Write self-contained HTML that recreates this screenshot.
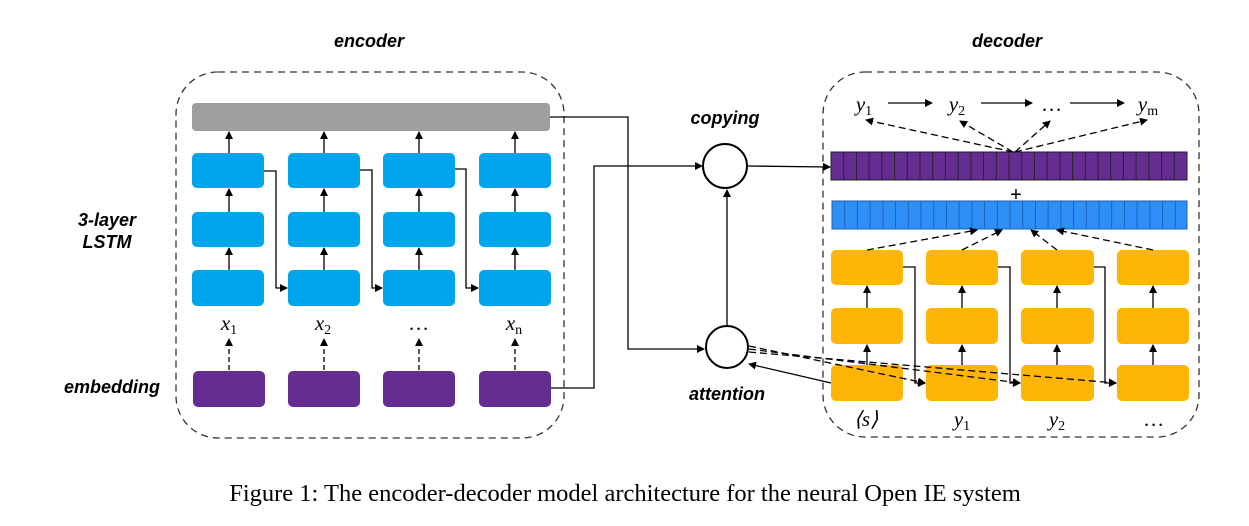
<!DOCTYPE html>
<html><head><meta charset="utf-8"><style>
html,body{margin:0;padding:0;background:#fff;}
svg{display:block;}
.lbl{font-family:"Liberation Sans",sans-serif;font-weight:bold;font-style:italic;font-size:18px;text-anchor:middle;}
.m{font-family:"Liberation Serif",serif;font-style:italic;font-size:21px;text-anchor:middle;}
.s{font-family:"Liberation Serif",serif;font-size:14px;font-style:normal;}
</style></head><body>
<svg width="1249" height="526" viewBox="0 0 1249 526" xmlns="http://www.w3.org/2000/svg">
<defs>
<marker id="a" markerWidth="8" markerHeight="8" refX="7" refY="4" orient="auto" markerUnits="userSpaceOnUse"><path d="M0,0 L8,4 L0,8 z" fill="#000"/></marker>
</defs>
<text class="lbl" x="369" y="47">encoder</text>
<text class="lbl" x="1007" y="47">decoder</text>
<text class="lbl" x="107" y="226">3-layer</text>
<text class="lbl" x="107" y="248">LSTM</text>
<text class="lbl" x="112" y="393">embedding</text>
<text class="lbl" x="725" y="124">copying</text>
<text class="lbl" x="727" y="400">attention</text>
<rect x="176" y="72" width="388" height="366" rx="42" fill="none" stroke="#333" stroke-width="1.3" stroke-dasharray="7,5"/>
<rect x="823" y="72" width="376" height="365" rx="42" fill="none" stroke="#333" stroke-width="1.3" stroke-dasharray="7,5"/>
<rect x="192" y="103" width="358" height="28" rx="4" fill="#9e9e9e"/>
<g fill="#00a6ed">
<rect x="192" y="153" width="72" height="35" rx="5"/><rect x="288" y="153" width="72" height="35" rx="5"/><rect x="383" y="153" width="72" height="35" rx="5"/><rect x="479" y="153" width="72" height="35" rx="5"/>
<rect x="192" y="212" width="72" height="35" rx="5"/><rect x="288" y="212" width="72" height="35" rx="5"/><rect x="383" y="212" width="72" height="35" rx="5"/><rect x="479" y="212" width="72" height="35" rx="5"/>
<rect x="192" y="270" width="72" height="36" rx="5"/><rect x="288" y="270" width="72" height="36" rx="5"/><rect x="383" y="270" width="72" height="36" rx="5"/><rect x="479" y="270" width="72" height="36" rx="5"/>
</g>
<g fill="#652c91">
<rect x="193" y="371" width="72" height="36" rx="5"/><rect x="288" y="371" width="72" height="36" rx="5"/><rect x="383" y="371" width="72" height="36" rx="5"/><rect x="479" y="371" width="72" height="36" rx="5"/>
</g>
<g stroke="#000" stroke-width="1.3" fill="none" marker-end="url(#a)">
<line x1="229" y1="153" x2="229" y2="132"/><line x1="324" y1="153" x2="324" y2="132"/><line x1="419" y1="153" x2="419" y2="132"/><line x1="515" y1="153" x2="515" y2="132"/>
<line x1="229" y1="212" x2="229" y2="189"/><line x1="324" y1="212" x2="324" y2="189"/><line x1="419" y1="212" x2="419" y2="189"/><line x1="515" y1="212" x2="515" y2="189"/>
<line x1="229" y1="270" x2="229" y2="248"/><line x1="324" y1="270" x2="324" y2="248"/><line x1="419" y1="270" x2="419" y2="248"/><line x1="515" y1="270" x2="515" y2="248"/>
<polyline points="264,171 276,171 276,288 287,288"/>
<polyline points="360,170 372,170 372,288 382,288"/>
<polyline points="455,169 466,169 466,288 478,288"/>
</g>
<g stroke="#000" stroke-width="1.3" fill="none" stroke-dasharray="5,3" marker-end="url(#a)">
<line x1="229" y1="370" x2="229" y2="339"/><line x1="324" y1="370" x2="324" y2="339"/><line x1="419" y1="370" x2="419" y2="339"/><line x1="515" y1="370" x2="515" y2="339"/>
</g>
<text class="m" x="229" y="330">x<tspan class="s" dy="4">1</tspan></text>
<text class="m" x="323" y="330">x<tspan class="s" dy="4">2</tspan></text>
<text class="m" x="419" y="330">…</text>
<text class="m" x="514" y="330">x<tspan class="s" dy="4">n</tspan></text>
<g stroke="#000" stroke-width="1.3" fill="none" marker-end="url(#a)">
<polyline points="550,117 628,117 628,349 704,349"/>
<polyline points="551,388 594,388 594,166 702,166"/>
<line x1="727" y1="326" x2="727" y2="190"/>
<line x1="748" y1="166" x2="830" y2="167"/>
<line x1="831" y1="383" x2="749" y2="364"/>
</g>
<circle cx="725" cy="166" r="22" fill="#fff" stroke="#000" stroke-width="2"/>
<circle cx="727" cy="347" r="21" fill="#fff" stroke="#000" stroke-width="2"/>
<rect x="831" y="152" width="356" height="28" fill="#652c91" stroke="#222" stroke-width="1"/>
<g stroke="#222" stroke-width="0.9">
<path d="M843.7,152V180M856.4,152V180M869.1,152V180M881.9,152V180M894.6,152V180M907.3,152V180M920,152V180M932.7,152V180M945.4,152V180M958.1,152V180M970.9,152V180M983.6,152V180M996.3,152V180M1009,152V180M1021.7,152V180M1034.4,152V180M1047.1,152V180M1059.9,152V180M1072.6,152V180M1085.3,152V180M1098,152V180M1110.7,152V180M1123.4,152V180M1136.1,152V180M1148.9,152V180M1161.6,152V180M1174.3,152V180"/>
</g>
<text x="1016" y="201" font-family="Liberation Sans,sans-serif" font-size="20" text-anchor="middle">+</text>
<rect x="832" y="201" width="355" height="28" fill="#2e8ff7" stroke="#1a5fb0" stroke-width="1"/>
<g stroke="#1a5fb0" stroke-width="0.9">
<path d="M844.7,201V229M857.4,201V229M870.1,201V229M882.9,201V229M895.6,201V229M908.3,201V229M921,201V229M933.7,201V229M946.4,201V229M959.1,201V229M971.9,201V229M984.6,201V229M997.3,201V229M1010,201V229M1022.7,201V229M1035.4,201V229M1048.1,201V229M1060.9,201V229M1073.6,201V229M1086.3,201V229M1099,201V229M1111.7,201V229M1124.4,201V229M1137.1,201V229M1149.9,201V229M1162.6,201V229M1175.3,201V229"/>
</g>
<g fill="#ffb508">
<rect x="831" y="250" width="72" height="35" rx="5"/><rect x="926" y="250" width="72" height="35" rx="5"/><rect x="1021" y="250" width="73" height="35" rx="5"/><rect x="1117" y="250" width="72" height="35" rx="5"/>
<rect x="831" y="308" width="72" height="36" rx="5"/><rect x="926" y="308" width="72" height="36" rx="5"/><rect x="1021" y="308" width="73" height="36" rx="5"/><rect x="1117" y="308" width="72" height="36" rx="5"/>
<rect x="831" y="365" width="72" height="36" rx="5"/><rect x="926" y="365" width="72" height="36" rx="5"/><rect x="1021" y="365" width="73" height="36" rx="5"/><rect x="1117" y="365" width="72" height="36" rx="5"/>
</g>
<g stroke="#000" stroke-width="1.3" fill="none" marker-end="url(#a)">
<line x1="867" y1="308" x2="867" y2="286"/><line x1="962" y1="308" x2="962" y2="286"/><line x1="1057" y1="308" x2="1057" y2="286"/><line x1="1153" y1="308" x2="1153" y2="286"/>
<line x1="867" y1="365" x2="867" y2="345"/><line x1="962" y1="365" x2="962" y2="345"/><line x1="1057" y1="365" x2="1057" y2="345"/><line x1="1153" y1="365" x2="1153" y2="345"/>
<polyline points="903,267 915,267 915,383 925,383"/>
<polyline points="998,267 1010,267 1010,383 1020,383"/>
<polyline points="1094,267 1105,267 1105,383 1116,383"/>
<line x1="888" y1="103" x2="932" y2="103"/>
<line x1="981" y1="103" x2="1032" y2="103"/>
<line x1="1070" y1="103" x2="1124" y2="103"/>
</g>
<g stroke="#000" stroke-width="1.3" fill="none" stroke-dasharray="7,4" marker-end="url(#a)">
<line x1="867" y1="250" x2="977" y2="230"/>
<line x1="962" y1="250" x2="1002" y2="230"/>
<line x1="1057" y1="250" x2="1031" y2="230"/>
<line x1="1153" y1="250" x2="1057" y2="230"/>
<line x1="1013" y1="152" x2="866" y2="120"/>
<line x1="1013" y1="152" x2="960" y2="121"/>
<line x1="1015" y1="152" x2="1050" y2="121"/>
<line x1="1015" y1="152" x2="1147" y2="120"/>
<line x1="749" y1="346" x2="925" y2="383"/>
<line x1="749" y1="349" x2="1020" y2="383"/>
<line x1="749" y1="352" x2="1116" y2="383"/>
</g>
<text class="m" x="864" y="111">y<tspan class="s" dy="4">1</tspan></text>
<text class="m" x="957" y="111">y<tspan class="s" dy="4">2</tspan></text>
<text class="m" x="1052" y="111">…</text>
<text class="m" x="1148" y="111">y<tspan class="s" dy="4">m</tspan></text>
<text class="m" x="866" y="426">⟨s⟩</text>
<text class="m" x="962" y="426">y<tspan class="s" dy="4">1</tspan></text>
<text class="m" x="1057" y="426">y<tspan class="s" dy="4">2</tspan></text>
<text class="m" x="1154" y="426">…</text>
<text x="625" y="501" font-family="Liberation Serif,serif" font-size="24.5" text-anchor="middle">Figure 1: The encoder-decoder model architecture for the neural Open IE system</text>
</svg>
</body></html>
